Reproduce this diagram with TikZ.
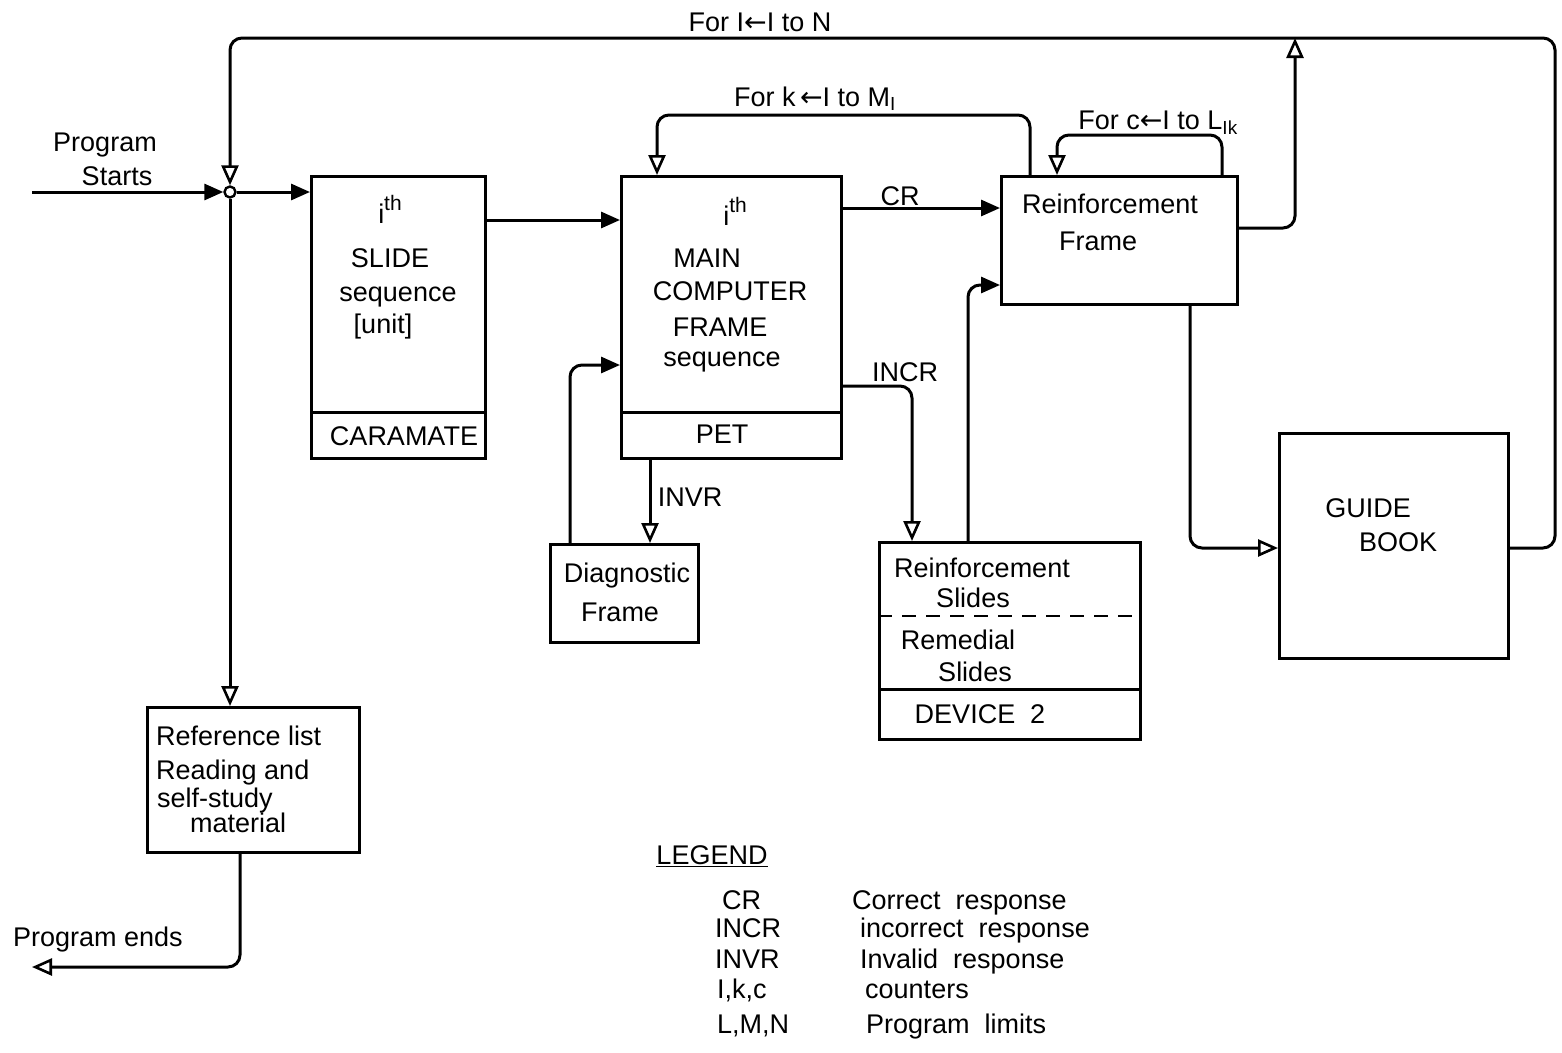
\documentclass[tikz,border=0pt]{standalone}
\usepackage{fontspec}
\setmainfont{Liberation Sans}
\newfontfamily\symf{DejaVu Sans}
\usetikzlibrary{arrows.meta,calc}
\newcommand{\la}{{\symf ←}}
\newcommand{\ith}{i\raisebox{0.5em}{\fontsize{21}{21}\selectfont th}}
\begin{document}
\begin{tikzpicture}[x=1pt,y=-1pt,
  every node/.style={font=\fontsize{27}{32}\selectfont, inner sep=0pt, text height=19pt, text depth=0pt},
  box/.style={draw, line width=3pt, anchor=north west},
  conn/.style={line width=3pt, rounded corners=12pt},
  arr/.style={conn, -{Triangle[open, length=20pt, width=17pt, line width=2.6pt]}},
  farr/.style={conn, -{Triangle[length=19pt, width=16pt]}}]
\useasboundingbox (0,0) rectangle (1562,1052);

% boxes
\node[box, minimum width=174pt, minimum height=282pt] (slide) at (310,175) {};
\node[box, minimum width=220pt, minimum height=282pt] (main) at (620,175) {};
\node[box, minimum width=236pt, minimum height=128pt] (rf) at (1000,175) {};
\node[box, minimum width=148pt, minimum height=98pt] (diag) at (549,543) {};
\node[box, minimum width=261pt, minimum height=197pt] (dev) at (878,541) {};
\node[box, minimum width=229pt, minimum height=225pt] (guide) at (1278,432) {};
\node[box, minimum width=212pt, minimum height=145pt] (ref) at (146,706) {};
\node[circle, draw, line width=2.4pt, minimum size=11pt, text height=, text depth=] (j) at (230,192) {};

% dividers
\draw[line width=3pt] (slide.west |- 0,412) -- (slide.east |- 0,412);
\draw[line width=3pt] (main.west |- 0,412) -- (main.east |- 0,412);
\draw[line width=2.6pt, dash pattern=on 14pt off 10pt] (dev.west |- 0,616) -- (dev.east |- 0,616);
\draw[line width=3pt] (dev.west |- 0,689) -- (dev.east |- 0,689);

% texts in boxes
\node (s1) at (390,214) {\ith};
\node (s2) at (390,258) {SLIDE};
\node (s3) at (398,292) {sequence};
\node (s4) at (383,324) {[unit]};
\node (s5) at (404,436) {CARAMATE};

\node (m1) at (735,216) {\ith};
\node (m2) at (707,258) {MAIN};
\node (m3) at (730,291) {COMPUTER};
\node (m4) at (720,327) {FRAME};
\node (m5) at (722,357) {sequence};
\node (m6) at (722,434) {PET};

\node (r1) at (1110,204) {Reinforcement};
\node (r2) at (1098,241) {Frame};

\node (d1) at (627,573) {Diagnostic};
\node (d2) at (620,612) {Frame};

\node (v1) at (982,568) {Reinforcement};
\node (v2) at (973,598) {Slides};
\node (v3) at (958,640) {Remedial};
\node (v4) at (975,672) {Slides};
\node (v5) at (980,714) {DEVICE\ \ 2};

\node (g1) at (1368,508) {GUIDE};
\node (g2) at (1398,542) {BOOK};

\node[anchor=west] (f1) at (156,736) {Reference list};
\node[anchor=west] (f2) at (156,770) {Reading and};
\node[anchor=west] (f3) at (157,798) {self-study};
\node[anchor=west] (f4) at (190,823) {material};

% free labels
\node (ps1) at (105,142) {Program};
\node (ps2) at (117,176) {Starts};
\node (pe) at (98,937) {Program ends};
\node (lN) at (760,22) {For I\la I to N};
\node (lM) at (815,97) {For k\,\la I to M\textsubscript{I}};
\node (lL) at (1158,120) {For c\la I to L\textsubscript{Ik}};
\node (cr) at (900,196) {CR};
\node (incr) at (905,372) {INCR};
\node (invr) at (690,497) {INVR};

% connectors
\coordinate (start) at (32,192);
\coordinate (endp) at (32,967);
\draw[farr] (start) -- (j.west);
\draw[farr] (j.east) -- (slide.west |- j);
\draw[arr] (j.south) -- (j |- ref.north);
\draw[arr] (guide.east |- 0,548) -- (1555,548) -- (1555,38) -- (230,38) -- (j.north);
\draw[arr] (rf.east |- 0,228) -- (1295,228) -- (1295,38);
\draw[farr] (slide.east |- 0,220) -- (main.west |- 0,220);
\draw[farr] (main.east |- 0,208) -- (rf.west |- 0,208);
\draw[arr] (main.east |- 0,386) -- (912,386) -- (912,0 |- dev.north);
\draw[arr] (650,0 |- main.south) -- (650,0 |- diag.north);
\draw[farr] (570,0 |- diag.north) -- (570,365) -- (main.west |- 0,365);
\draw[farr] (968,0 |- dev.north) -- (968,285) -- (rf.west |- 0,285);
\draw[arr] (1030,0 |- rf.north) -- (1030,115) -- (657,115) -- (657,0 |- main.north);
\draw[arr] (1222,0 |- rf.north) -- (1222,135) -- (1057,135) -- (1057,0 |- rf.north);
\draw[arr] (1190,0 |- rf.south) -- (1190,548) -- (guide.west |- 0,548);
\draw[arr] (240,0 |- ref.south) -- (240,967) -- (endp);

% legend
\node (lg) at (712,855) {\underline{LEGEND}};
\node[anchor=west] (k1) at (722,900) {CR};
\node[anchor=west] (k2) at (715,928) {INCR};
\node[anchor=west] (k3) at (715,959) {INVR};
\node[anchor=west] (k4) at (717,989) {I,k,c};
\node[anchor=west] (k5) at (717,1024) {L,M,N};
\node[anchor=west] (e1) at (852,900) {Correct\ \ response};
\node[anchor=west] (e2) at (860,928) {incorrect\ \ response};
\node[anchor=west] (e3) at (860,959) {Invalid\ \ response};
\node[anchor=west] (e4) at (865,989) {counters};
\node[anchor=west] (e5) at (866,1024) {Program\ \ limits};
\end{tikzpicture}
\end{document}
